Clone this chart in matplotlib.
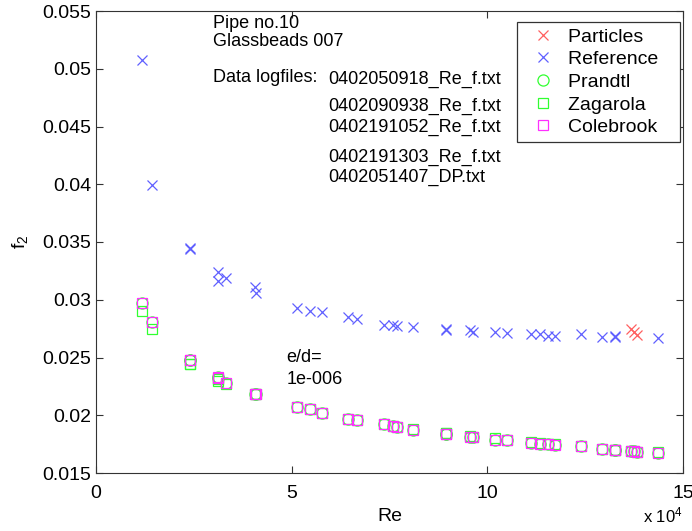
import matplotlib
matplotlib.use('Agg')
from matplotlib import pyplot as plt
import numpy as np

plt.rcParams['font.family'] = ['Liberation Sans', 'DejaVu Sans']
plt.rcParams['mathtext.fontset'] = 'custom'
plt.rcParams['mathtext.rm'] = 'Liberation Sans'
plt.rcParams['mathtext.it'] = 'Liberation Sans'

# Reynolds numbers of the reference runs
re = [11700, 14300, 24000, 24100, 31200, 31300, 33200, 40700, 40800, 51300,
      54700, 57700, 64400, 66600, 73500, 76000, 76900, 81000, 89400, 89500,
      95600, 96300, 101900, 104900, 111200, 113400, 115600, 117400, 123900,
      129400, 132600, 132700, 143600]
f_ref = [0.0508, 0.0399, 0.0345, 0.0344, 0.0324, 0.0316, 0.0319, 0.0311, 0.0306,
         0.0293, 0.0290, 0.0289, 0.0285, 0.0283, 0.0278, 0.0278, 0.0277, 0.0276,
         0.0274, 0.0275, 0.0274, 0.0272, 0.0272, 0.0271, 0.0270, 0.0270, 0.0269,
         0.0269, 0.0270, 0.0268, 0.0269, 0.0268, 0.0267]
f_prandtl = [0.0297, 0.0281, 0.0248, 0.0248, 0.0233, 0.0232, 0.0228, 0.0218, 0.0218,
             0.0207, 0.0205, 0.0202, 0.0197, 0.0196, 0.0192, 0.0191, 0.0190, 0.0187,
             0.0184, 0.0184, 0.0181, 0.0181, 0.0179, 0.0179, 0.0176, 0.0175, 0.0175,
             0.0174, 0.0173, 0.0171, 0.0170, 0.0170, 0.0167]
f_zagarola = [0.0290, 0.0275, 0.0244, 0.0244, 0.0231, 0.0230, 0.0227, 0.0218, 0.0218,
              0.0207, 0.0205, 0.0202, 0.0197, 0.0196, 0.0192, 0.0191, 0.0190, 0.0188,
              0.0185, 0.0185, 0.0182, 0.0181, 0.0180, 0.0179, 0.0177, 0.0176, 0.0175,
              0.0175, 0.0173, 0.0171, 0.0170, 0.0170, 0.0168]
f_colebrook = f_prandtl

# particle runs
re_p = [136800, 137500, 138300]
f_p = [0.02745, 0.0272, 0.02695]
f_p_theory = [0.0169, 0.0169, 0.0168]

files = ['0402050918_Re_f.txt', '0402090938_Re_f.txt', '0402191052_Re_f.txt',
         '0402191303_Re_f.txt', '0402051407_DP.txt']

x = np.array(re) / 1e4
xp = np.array(re_p) / 1e4

fig = plt.figure(figsize=(6.92, 5.31), dpi=100)
ax = fig.add_axes([96/692, 1-473/531, 587/692, 462/531])

ms = 7
pad = '   '
ax.plot(xp, f_p, 'x', color='#ff6060', ms=ms, mew=0.9, label='Particles' + pad)
ax.plot(x, f_ref, 'x', color='#6060ff', ms=ms, mew=0.9, label='Reference' + pad)
allx = np.concatenate([x, xp])
ax.plot(allx, f_prandtl + f_p_theory, 'o', mfc='none', mec='#30ff30', ms=8, mew=0.9, label='Prandtl' + pad)
ax.plot(allx, f_zagarola + f_p_theory, 's', mfc='none', mec='#30ff30', ms=7.5, mew=0.9, label='Zagarola' + pad)
ax.plot(allx, f_colebrook + f_p_theory, 's', mfc='none', mec='#ff30ff', ms=7.5, mew=0.9, label='Colebrook' + pad)

ax.set_xlim(0, 15)
ax.set_ylim(0.015, 0.055)
ax.set_xticks([0, 5, 10, 15])
ax.set_yticks(np.arange(0.015, 0.0551, 0.005))
ax.set_yticklabels(['0.015', '0.02', '0.025', '0.03', '0.035', '0.04', '0.045', '0.05', '0.055'])
ax.tick_params(direction='in', length=5, top=True, right=True, labelsize=14, colors='#333333')
ax.tick_params(axis='x', pad=9)
ax.tick_params(labelcolor='black')
for s in ax.spines.values():
    s.set_color('#333333')

ax.set_xlabel('Re', fontsize=14, labelpad=4)
ax.set_ylabel('f$_2$', fontsize=14, labelpad=9)
ax.text(1.0, -0.108, 'x 10$^4$', transform=ax.transAxes, ha='right', va='baseline', fontsize=12)

tk = dict(transform=ax.transAxes, fontsize=13, va='center', ha='left')
ax.text(0.199, 0.974, 'Pipe no.10', **tk)
ax.text(0.199, 0.933, 'Glassbeads 007', **tk)
ax.text(0.199, 0.857, 'Data logfiles:', **tk)
ys = [0.853, 0.794, 0.747, 0.684, 0.639]
for fn, yy in zip(files, ys):
    ax.text(0.395, yy, fn, **tk)
ax.text(0.324, 0.249, 'e/d=', **tk)
ax.text(0.324, 0.203, '1e-006', **tk)

leg = ax.legend(loc='upper right', bbox_to_anchor=(0.995, 0.976), fontsize=14,
                fancybox=False, edgecolor='#333333', framealpha=1, borderaxespad=0,
                labelspacing=0.26, handletextpad=0.25, borderpad=0.3, handlelength=2.08)
leg.get_frame().set_linewidth(0.9)

fig.savefig('out.png', dpi=100)
